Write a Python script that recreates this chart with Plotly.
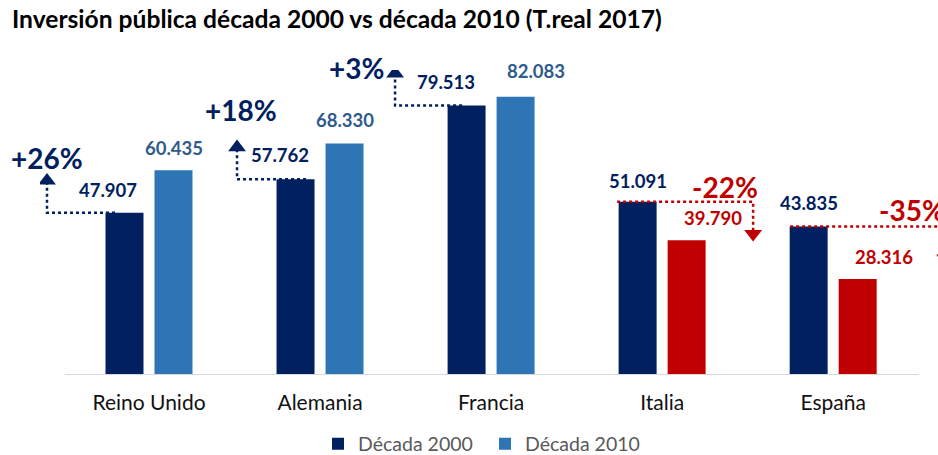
import plotly.graph_objects as go

# ---------------- data ----------------
categories = ["Reino Unido", "Alemania", "Francia", "Italia", "España"]
decada_2000 = [47.907, 57.762, 79.513, 51.091, 43.835]
decada_2010 = [60.435, 68.330, 82.083, 39.790, 28.316]
variacion = ["+26%", "+18%", "+3%", "-22%", "-35%"]

# ---------------- style ----------------
NAVY = "#002060"
BLUE = "#2E75B6"
RED = "#C00000"
BLUE_TXT = "#2F5B8C"
FONT = "Lato"

W, H = 938, 455
M_L, M_R, M_T, M_B = 40, 0, 70, 80
CAT0_PX = 149.0        # pixel position of first category centre
CAT_PX = 171.04        # pixels per category
Y_MAX = 90
PLOT_H = H - M_T - M_B
PLOT_W = W - M_L - M_R
AXIS_PX = H - M_B
PXY = PLOT_H / Y_MAX
X_LO = -(CAT0_PX - M_L) / CAT_PX
X_HI = X_LO + PLOT_W / CAT_PX
BARGAP = 0.427
BARGROUPGAP = 0.225
HALF = (1 - BARGAP) / 4   # offset of each bar centre from category centre


def dx(px):
    return px / CAT_PX


def dy(px):
    return px / PXY


# label offsets (pixels)
LAB0_DX = [-17, -16, -21, 0, 0]
LAB0_DY = [23, 24, 24, 21, 23]
LAB1_DX = [0, 0, 20, 26, 26]
LAB1_DY = [22, 23, 26, 22, 22]
# arrow geometry (pixels relative to category centre / bar top)
ARROW_DX = [-102, -83, -96, 91, 112]
LINE_START_DX = [-34, -14, -29, -45, -43]
PCT_DX = [0, 4, -39, -28, -33]
PCT_DY = [55, 69, 38, 15, 16]

idx = list(range(len(categories)))
colors_2010 = [BLUE if b >= a else RED for a, b in zip(decada_2000, decada_2010)]

fig = go.Figure()
fig.add_trace(go.Bar(x=idx, y=decada_2000, name="Década 2000",
                     marker=dict(color=NAVY, line=dict(width=0)), hoverinfo="skip"))
fig.add_trace(go.Bar(x=idx, y=decada_2010, name="Década 2010",
                     marker=dict(color=colors_2010, line=dict(width=0)), hoverinfo="skip"))

annotations = []
for i in idx:
    a, b = decada_2000[i], decada_2010[i]
    # value labels
    annotations.append(dict(x=i - HALF + dx(LAB0_DX[i]), y=a, yshift=LAB0_DY[i],
                            text=f"{a:.3f}", showarrow=False, xanchor="center", yanchor="middle",
                            font=dict(family=FONT, size=18.5, color=NAVY, weight="bold")))
    annotations.append(dict(x=i + HALF + dx(LAB1_DX[i]), y=b, yshift=LAB1_DY[i],
                            text=f"{b:.3f}", showarrow=False, xanchor="center", yanchor="middle",
                            font=dict(family=FONT, size=18.5,
                                      color=BLUE_TXT if b >= a else RED, weight="bold")))
    # variation arrows
    up = b >= a
    col = NAVY if up else RED
    sgn = 1 if up else -1
    ax = i + dx(ARROW_DX[i])
    hx = i + dx(LINE_START_DX[i])
    fig.add_trace(go.Scatter(x=[hx, ax, ax], y=[a, a, a + sgn * dy(30)], mode="lines",
                             line=dict(color=col, width=2.5, dash="dot"),
                             showlegend=False, hoverinfo="skip"))
    fig.add_trace(go.Scatter(x=[ax], y=[a + sgn * dy(32)], mode="markers",
                             marker=dict(symbol="triangle-up" if up else "triangle-down",
                                         size=15.5, color=col),
                             showlegend=False, hoverinfo="skip"))
    annotations.append(dict(x=ax + dx(PCT_DX[i]), y=a, yshift=PCT_DY[i],
                            text=variacion[i], showarrow=False, xanchor="center", yanchor="middle",
                            font=dict(family=FONT, size=28, color=col, weight="bold")))

LEG_LEFT_PX = 318
LEG_CY_PX = 444
fig.update_layout(
    width=W, height=H,
    margin=dict(l=M_L, r=M_R, t=M_T, b=M_B, autoexpand=False),
    paper_bgcolor="white", plot_bgcolor="white",
    barmode="group", bargap=BARGAP, bargroupgap=BARGROUPGAP,
    title=dict(text="Inversión pública década 2000 vs década 2010 (T.real 2017)",
               x=12 / W, xanchor="left", xref="container",
               y=1 - 19 / H, yanchor="middle", yref="container",
               font=dict(family=FONT, size=24.6, color="#000000", weight="bold")),
    xaxis=dict(range=[X_LO, X_HI], tickvals=idx, ticktext=categories,
               showgrid=False, zeroline=False, showline=False, ticks="",
               ticklabelstandoff=13, automargin=False,
               tickfont=dict(family=FONT, size=21, color="#111111")),
    yaxis=dict(range=[0, Y_MAX], visible=False, automargin=False),
    legend=dict(orientation="h", x=(LEG_LEFT_PX - M_L) / PLOT_W, xanchor="left",
                y=-(LEG_CY_PX - AXIS_PX) / PLOT_H, yanchor="middle",
                entrywidth=122, entrywidthmode="pixels",
                font=dict(family=FONT, size=19.5, color="#595959"),
                traceorder="normal"),
    shapes=[dict(type="line", xref="x", yref="y", x0=-0.49, x1=4.50, y0=0, y1=0,
                 line=dict(color="#D9D9D9", width=2), layer="above")],
    annotations=annotations,
    showlegend=True,
)

# remove the browser's default 8px body margin so the 938x455 figure fills the window
fig.write_html("out.html", config={"displayModeBar": False},
               post_script="document.body.style.margin='0px';")
